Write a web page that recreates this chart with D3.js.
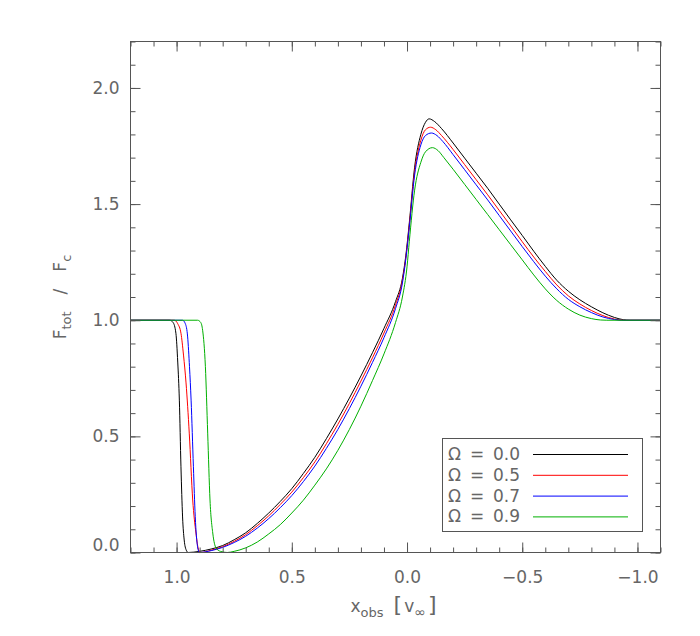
<!DOCTYPE html>
<html>
<head>
<meta charset="utf-8">
<script src="https://cdn.jsdelivr.net/npm/d3@7"></script>
<style>
  body { margin: 0; background: #fff; }
  svg { font-family: "DejaVu Sans", sans-serif; }
  .axis path { display: none; }
  .axis line { stroke: #555; }
  .axis text { fill: #666; font-size: 17px; font-family: "DejaVu Sans", sans-serif; }
  .title { fill: #666; font-size: 17px; }
  .curve { fill: none; stroke-width: 1; }
</style>
</head>
<body>
<svg id="svg" width="700" height="636"></svg>
<script>
// Data: [x_obs, F_tot/F_c]
const omegaLabels = ['0.0', '0.5', '0.7', '0.9'];
const seriesColors = ['#000000', '#ff0000', '#0000ff', '#00b000'];

const omega00 = [
  [1.2, 1.0], [1.03, 1.0], [1.015, 0.99], [1.003, 0.944], [0.995, 0.82], [0.988, 0.656],
  [0.981, 0.369], [0.974, 0.153], [0.967, 0.054], [0.958, 0.01], [0.95, 0.0], [0.9, 0.005],
  [0.85, 0.015], [0.8, 0.03], [0.75, 0.055], [0.7, 0.085], [0.65, 0.125], [0.6, 0.17],
  [0.55, 0.22], [0.5, 0.275], [0.45, 0.34], [0.4, 0.41], [0.35, 0.49], [0.3, 0.575],
  [0.25, 0.665], [0.2, 0.76], [0.15, 0.86], [0.1, 0.965], [0.05, 1.08], [0.02, 1.18],
  [0.005, 1.28], [-0.01, 1.42], [-0.033, 1.659], [-0.06, 1.8], [-0.08, 1.852], [-0.096, 1.867],
  [-0.12, 1.855], [-0.15, 1.825], [-0.2, 1.763], [-0.25, 1.698], [-0.3, 1.633], [-0.35, 1.568],
  [-0.4, 1.5], [-0.45, 1.432], [-0.5, 1.365], [-0.55, 1.297], [-0.6, 1.232], [-0.65, 1.172],
  [-0.7, 1.125], [-0.75, 1.088], [-0.8, 1.058], [-0.85, 1.032], [-0.9, 1.012], [-0.94, 1.002],
  [-0.968, 1.0], [-1.1, 1.0]
];

const omega05 = [
  [1.2, 1.0], [1.01, 1.0], [0.995, 0.985], [0.981, 0.944], [0.97, 0.85], [0.959, 0.73],
  [0.945, 0.514], [0.93, 0.226], [0.916, 0.084], [0.904, 0.01], [0.895, 0.0], [0.85, 0.01],
  [0.8, 0.025], [0.75, 0.048], [0.7, 0.077], [0.65, 0.115], [0.6, 0.158], [0.55, 0.207],
  [0.5, 0.26], [0.45, 0.322], [0.4, 0.39], [0.35, 0.468], [0.3, 0.552], [0.25, 0.642],
  [0.2, 0.738], [0.15, 0.838], [0.1, 0.945], [0.05, 1.065], [0.02, 1.17], [0.005, 1.27],
  [-0.01, 1.41], [-0.033, 1.64], [-0.06, 1.775], [-0.08, 1.82], [-0.102, 1.831],
  [-0.125, 1.82], [-0.15, 1.795], [-0.2, 1.735], [-0.25, 1.67], [-0.3, 1.605], [-0.35, 1.54],
  [-0.4, 1.473], [-0.45, 1.406], [-0.5, 1.338], [-0.55, 1.272], [-0.6, 1.21], [-0.65, 1.152],
  [-0.7, 1.105], [-0.75, 1.07], [-0.8, 1.042], [-0.85, 1.02], [-0.9, 1.005], [-0.947, 1.0],
  [-1.1, 1.0]
];

const omega07 = [
  [1.2, 1.0], [0.974, 1.0], [0.962, 0.985], [0.952, 0.928], [0.944, 0.8], [0.937, 0.656],
  [0.927, 0.369], [0.919, 0.154], [0.909, 0.025], [0.901, 0.0], [0.85, 0.008], [0.8, 0.022],
  [0.75, 0.043], [0.7, 0.07], [0.65, 0.105], [0.6, 0.146], [0.55, 0.193], [0.5, 0.245],
  [0.45, 0.305], [0.4, 0.372], [0.35, 0.448], [0.3, 0.53], [0.25, 0.62], [0.2, 0.716],
  [0.15, 0.818], [0.1, 0.925], [0.05, 1.05], [0.02, 1.16], [0.005, 1.265], [-0.01, 1.4],
  [-0.033, 1.625], [-0.06, 1.755], [-0.08, 1.795], [-0.106, 1.806], [-0.13, 1.795],
  [-0.155, 1.77], [-0.2, 1.713], [-0.25, 1.648], [-0.3, 1.583], [-0.35, 1.518], [-0.4, 1.451],
  [-0.45, 1.384], [-0.5, 1.317], [-0.55, 1.252], [-0.6, 1.19], [-0.65, 1.135], [-0.7, 1.09],
  [-0.75, 1.058], [-0.8, 1.033], [-0.85, 1.014], [-0.9, 1.003], [-0.932, 1.0], [-1.1, 1.0]
];

const omega09 = [
  [1.2, 1.0], [0.909, 1.0], [0.895, 0.99], [0.887, 0.957], [0.875, 0.8], [0.865, 0.514],
  [0.855, 0.226], [0.843, 0.084], [0.829, 0.02], [0.81, 0.005], [0.78, 0.0], [0.75, 0.005],
  [0.7, 0.02], [0.65, 0.045], [0.6, 0.08], [0.55, 0.12], [0.5, 0.17], [0.45, 0.225],
  [0.4, 0.29], [0.35, 0.36], [0.3, 0.44], [0.25, 0.53], [0.2, 0.63], [0.15, 0.74],
  [0.1, 0.855], [0.05, 0.99], [0.02, 1.1], [0.0, 1.23], [-0.01, 1.34], [-0.033, 1.56],
  [-0.06, 1.68], [-0.08, 1.725], [-0.11, 1.743], [-0.135, 1.73], [-0.16, 1.7], [-0.2, 1.65],
  [-0.25, 1.585], [-0.3, 1.52], [-0.35, 1.455], [-0.4, 1.39], [-0.45, 1.325], [-0.5, 1.26],
  [-0.55, 1.195], [-0.6, 1.135], [-0.65, 1.085], [-0.7, 1.048], [-0.75, 1.022], [-0.8, 1.007],
  [-0.84, 1.001], [-0.867, 1.0], [-1.1, 1.0]
];

const series = [omega00, omega05, omega07, omega09];

const xMajor = [1.0, 0.5, 0.0, -0.5, -1.0];
const yMajor = [0.0, 0.5, 1.0, 1.5, 2.0];
const xMinor = d3.range(-11, 13).map(i => i / 10);
const yMinor = d3.range(0, 23).map(i => i / 10);

const plotLeft = 130.5, plotRight = 660.5, plotTop = 41.5, plotBottom = 552.5;

const x = d3.scaleLinear().domain([1.2, -1.1]).range([plotLeft, plotRight]);
const y = d3.scaleLinear().domain([0, 2.2]).range([plotBottom, plotTop]);

const svg = d3.select('#svg');
const fmt = d3.format('.1f');

// curves first, frame and ticks drawn over them
const line = d3.line()
  .x(d => x(d[0]))
  .y(d => y(d[1]))
  .curve(d3.curveMonotoneX);

svg.append('g')
  .selectAll('path')
  .data(series)
  .join('path')
  .attr('class', 'curve')
  .attr('stroke', (d, i) => seriesColors[i])
  .attr('d', line);

// ── Axes (ticks inward on all four sides) ──
svg.append('g').attr('class', 'axis')
  .attr('transform', `translate(0,${plotBottom})`)
  .call(d3.axisBottom(x).tickValues(xMinor).tickSize(-5).tickFormat(''));
svg.append('g').attr('class', 'axis')
  .attr('transform', `translate(0,${plotBottom})`)
  .call(d3.axisBottom(x).tickValues(xMajor).tickSize(-10).tickPadding(18).tickFormat(fmt));

svg.append('g').attr('class', 'axis')
  .attr('transform', `translate(0,${plotTop})`)
  .call(d3.axisTop(x).tickValues(xMinor).tickSize(-5).tickFormat(''));
svg.append('g').attr('class', 'axis')
  .attr('transform', `translate(0,${plotTop})`)
  .call(d3.axisTop(x).tickValues(xMajor).tickSize(-10).tickFormat(''));

svg.append('g').attr('class', 'axis')
  .attr('transform', `translate(${plotLeft},0)`)
  .call(d3.axisLeft(y).tickValues(yMinor).tickSize(-5).tickFormat(''));
const yAxisG = svg.append('g').attr('class', 'axis')
  .attr('transform', `translate(${plotLeft},0)`)
  .call(d3.axisLeft(y).tickValues(yMajor).tickSize(-10).tickPadding(11).tickFormat(fmt));
yAxisG.selectAll('.tick text').filter(d => d === 0).attr('dy', '-0.1em');

svg.append('g').attr('class', 'axis')
  .attr('transform', `translate(${plotRight},0)`)
  .call(d3.axisRight(y).tickValues(yMinor).tickSize(-5).tickFormat(''));
svg.append('g').attr('class', 'axis')
  .attr('transform', `translate(${plotRight},0)`)
  .call(d3.axisRight(y).tickValues(yMajor).tickSize(-10).tickFormat(''));

svg.append('rect')
  .attr('x', plotLeft).attr('y', plotTop)
  .attr('width', plotRight - plotLeft).attr('height', plotBottom - plotTop)
  .attr('fill', 'none').attr('stroke', '#555');

// ── Axis titles ──
const xTitle = svg.append('text')
  .attr('class', 'title')
  .attr('x', (plotLeft + plotRight) / 2 - 2).attr('y', 612)
  .attr('text-anchor', 'middle')
  .attr('font-size', 18);
xTitle.append('tspan').text('x');
xTitle.append('tspan').attr('font-size', 13).attr('dy', 5).text('obs');
xTitle.append('tspan').attr('dy', -5).attr('dx', 10).attr('font-size', 22).text('[');
xTitle.append('tspan').attr('dx', 2).text('v');
xTitle.append('tspan').attr('font-size', 14).attr('dy', 5).text('∞');
xTitle.append('tspan').attr('dy', -5).attr('dx', 2).attr('font-size', 22).text(']');

const yTitle = svg.append('text')
  .attr('class', 'title')
  .attr('transform', `translate(66,${(plotTop + plotBottom) / 2}) rotate(-90)`)
  .attr('text-anchor', 'middle')
  .attr('font-size', 18);
yTitle.append('tspan').text('F');
yTitle.append('tspan').attr('font-size', 13).attr('dy', 5).text('tot');
yTitle.append('tspan').attr('dy', -5).attr('dx', 17).text('/');
yTitle.append('tspan').attr('dx', 17).text('F');
yTitle.append('tspan').attr('font-size', 13).attr('dy', 5).text('c');

// ── Legend ──
const legend = svg.append('g');
legend.append('rect')
  .attr('x', 442.5).attr('y', 438.5)
  .attr('width', 200).attr('height', 93)
  .attr('fill', '#fff').attr('stroke', '#555');

const rows = legend.selectAll('g')
  .data(omegaLabels)
  .join('g')
  .attr('transform', (d, i) => `translate(0,${454 + i * 20.8})`);

rows.append('text').attr('class', 'title').attr('x', 448).attr('dy', '0.35em').text('Ω');
rows.append('text').attr('class', 'title').attr('x', 470).attr('dy', '0.35em').text('=');
rows.append('text').attr('class', 'title').attr('x', 493).attr('dy', '0.35em').text(d => d);
rows.append('line')
  .attr('x1', 533).attr('x2', 628)
  .attr('y1', 0.5).attr('y2', 0.5)
  .attr('stroke', (d, i) => seriesColors[i]);
</script>
</body>
</html>
